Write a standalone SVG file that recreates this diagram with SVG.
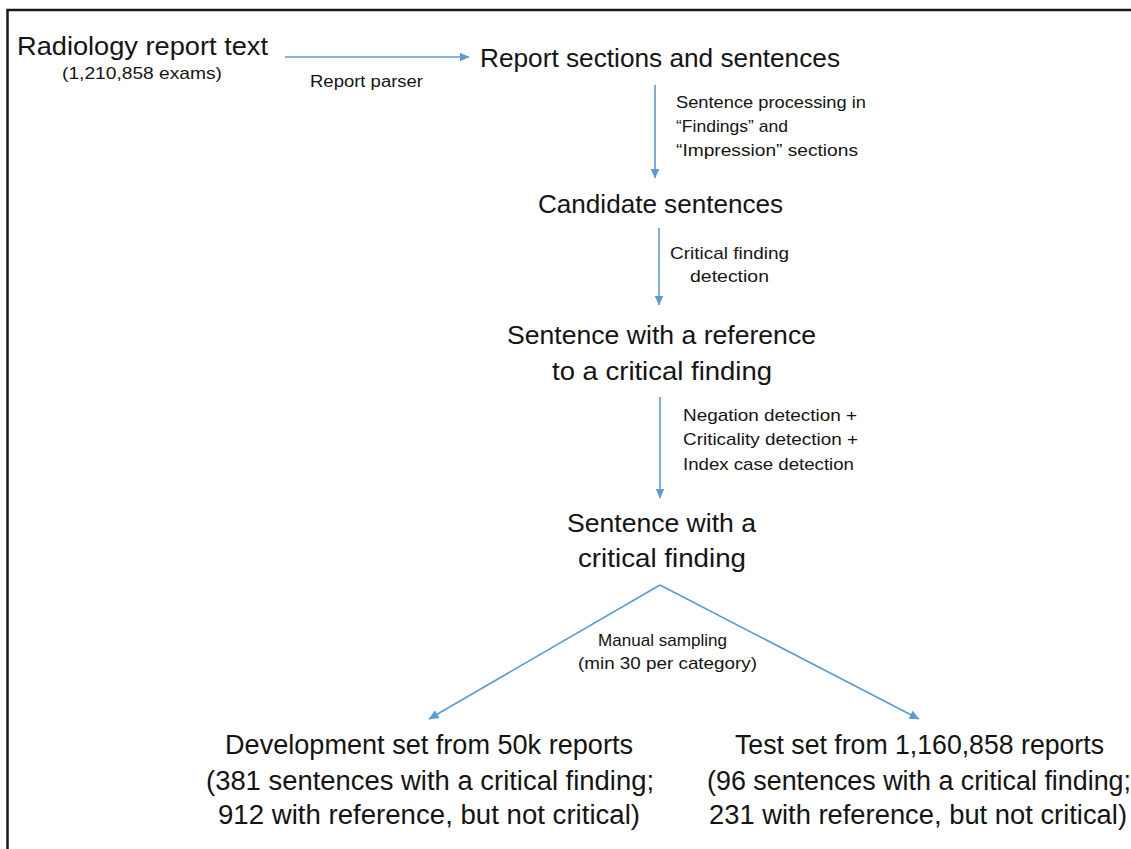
<svg xmlns="http://www.w3.org/2000/svg" width="1131" height="849" viewBox="0 0 1131 849">
<defs>
<marker id="ah" viewBox="0 0 10 10" refX="9.5" refY="5" markerWidth="10" markerHeight="9" markerUnits="userSpaceOnUse" orient="auto" preserveAspectRatio="none"><path d="M0,0 L10,5 L0,10 z" fill="#5B9BD5"/></marker>
<style>
text{font-family:"Liberation Sans",Arial,sans-serif;fill:#141414}
.b{font-size:26px}
.m{font-size:17px}
.s{font-size:16px}
.l{font-size:27px}
.c{stroke:#5B9BD5;stroke-width:1.6;fill:none;marker-end:url(#ah)}
</style>
</defs>
<rect width="1131" height="849" fill="#fff"/>
<path d="M7.5,849 V10 H1131" fill="none" stroke="#1a1a1a" stroke-width="2.5"/>
<g id="connectors">
<line class="c" x1="285" y1="57" x2="469" y2="57"/>
<line class="c" x1="655" y1="85" x2="655" y2="178"/>
<line class="c" x1="659" y1="228" x2="659" y2="305"/>
<line class="c" x1="660" y1="397" x2="660" y2="498"/>
<line class="c" x1="660" y1="585" x2="429" y2="719"/>
<line class="c" x1="660" y1="585" x2="919" y2="719"/>
</g>
<g id="lbl-parser"><text class="s" x="310" y="87" textLength="113" lengthAdjust="spacingAndGlyphs">Report parser</text></g>
<g id="lbl-sentproc">
<text class="m" x="676" y="108" textLength="190" lengthAdjust="spacingAndGlyphs">Sentence processing in</text>
<text class="m" x="676" y="132" textLength="112" lengthAdjust="spacingAndGlyphs">“Findings” and</text>
<text class="m" x="676" y="156" textLength="182" lengthAdjust="spacingAndGlyphs">“Impression” sections</text>
</g>
<g id="lbl-critdet">
<text class="m" x="670" y="259" textLength="119" lengthAdjust="spacingAndGlyphs">Critical finding</text>
<text class="m" x="690" y="282" textLength="79" lengthAdjust="spacingAndGlyphs">detection</text>
</g>
<g id="lbl-neg">
<text class="m" x="683" y="421" textLength="174" lengthAdjust="spacingAndGlyphs">Negation detection +</text>
<text class="m" x="683" y="445" textLength="175" lengthAdjust="spacingAndGlyphs">Criticality detection +</text>
<text class="m" x="683" y="470" textLength="171" lengthAdjust="spacingAndGlyphs">Index case detection</text>
</g>
<g id="lbl-manual">
<text class="m" x="598" y="646" textLength="129" lengthAdjust="spacingAndGlyphs">Manual sampling</text>
<text class="m" x="578" y="669" textLength="179" lengthAdjust="spacingAndGlyphs">(min 30 per category)</text>
</g>
<g id="n-radiology">
<text class="b" x="17" y="55" textLength="251" lengthAdjust="spacingAndGlyphs">Radiology report text</text>
<text class="m" x="62" y="79" textLength="160" lengthAdjust="spacingAndGlyphs">(1,210,858 exams)</text>
</g>
<g id="n-sections"><text class="b" x="480" y="67" textLength="360" lengthAdjust="spacingAndGlyphs">Report sections and sentences</text></g>
<g id="n-candidate"><text class="b" x="538" y="213" textLength="245" lengthAdjust="spacingAndGlyphs">Candidate sentences</text></g>
<g id="n-reference">
<text class="b" x="507" y="344" textLength="309" lengthAdjust="spacingAndGlyphs">Sentence with a reference</text>
<text class="b" x="552" y="380" textLength="220" lengthAdjust="spacingAndGlyphs">to a critical finding</text>
</g>
<g id="n-critical">
<text class="b" x="567" y="532" textLength="189" lengthAdjust="spacingAndGlyphs">Sentence with a</text>
<text class="b" x="578" y="567" textLength="168" lengthAdjust="spacingAndGlyphs">critical finding</text>
</g>
<g id="n-dev">
<text class="l" x="225" y="754" textLength="408" lengthAdjust="spacingAndGlyphs">Development set from 50k reports</text>
<text class="l" x="206" y="790" textLength="448" lengthAdjust="spacingAndGlyphs">(381 sentences with a critical finding;</text>
<text class="l" x="218" y="824" textLength="422" lengthAdjust="spacingAndGlyphs">912 with reference, but not critical)</text>
</g>
<g id="n-test">
<text class="l" x="735" y="754" textLength="369" lengthAdjust="spacingAndGlyphs">Test set from 1,160,858 reports</text>
<text class="l" x="707" y="790" textLength="424" lengthAdjust="spacingAndGlyphs">(96 sentences with a critical finding;</text>
<text class="l" x="709" y="824" textLength="418" lengthAdjust="spacingAndGlyphs">231 with reference, but not critical)</text>
</g>
</svg>
